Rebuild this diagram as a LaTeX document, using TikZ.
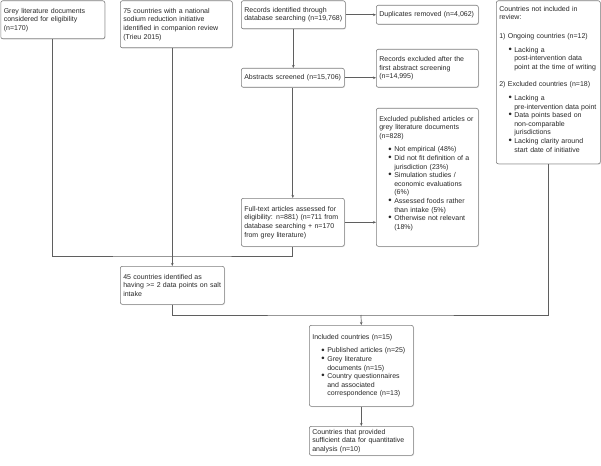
\documentclass[tikz,border=0pt]{standalone}
\usepackage{fontspec}
\setmainfont{Liberation Sans}
\usetikzlibrary{arrows.meta,shadows}
\definecolor{linegray}{RGB}{95,95,95}
\definecolor{boxgray}{RGB}{125,125,125}
\definecolor{textgray}{RGB}{40,40,40}

% bullet item with hanging indent, plain paragraph, gap
\newcommand{\bitem}[1]{\par\leftskip=15pt\noindent\llap{\raisebox{-0.2pt}{\scalebox{1.35}{\textbullet}}\hspace{2.5pt}}#1\par}
\newcommand{\bhead}[1]{\par\leftskip=0pt\noindent #1\par}
\newcommand{\gap}[1]{\par\vspace{#1}}

\begin{document}
\begin{tikzpicture}[
  x=1pt, y=-1pt, >=Stealth,
  font=\fontsize{7}{8.6}\selectfont,
  card/.style={rectangle, draw=boxgray, line width=0.6pt, rounded corners=2pt, fill=white,
               anchor=north west, align=left, inner xsep=3pt, inner ysep=2pt, text=textgray,
               drop shadow={shadow xshift=0.7pt, shadow yshift=-0.7pt, fill=black!25}},
  wire/.style={draw=linegray, line width=0.7pt},
  flow/.style={wire, -{Stealth[length=3pt,width=2.6pt]}}]

  \useasboundingbox (0,0) rectangle (601,465);

  % ---------- sources ----------
  \node[card, text width=98pt, minimum height=38pt] (grey) at (0.5,0.5)
    {Grey literature documents\newline considered for eligibility\newline (n=170)};
  \node[card, text width=106pt, minimum height=47pt] (nat) at (120,0.5)
    {75 countries with a national\newline sodium reduction initiative\newline identified in companion review\newline (Trieu 2015)};
  \node[card, text width=98pt, minimum height=28pt] (rec) at (241,0.5)
    {Records identified through\newline database searching (n=19,768)};

  % ---------- screening ----------
  \node[card, text width=96pt, minimum height=19pt] (dup) at (376,5)
    {Duplicates removed (n=4,062)};
  \node[card, text width=97pt, minimum height=19pt] (abs) at (241,68)
    {Abstracts screened (n=15,706)};
  \node[card, text width=96pt, minimum height=38pt] (recex) at (376,49)
    {Records excluded after the\newline first abstract screening\newline (n=14,995)};
  \node[card, text width=96pt, minimum height=138pt] (excl) at (376,108)
    {Excluded published articles or\newline grey literature documents\newline (n=828)
     \gap{5pt}
     \bitem{Not empirical (48\%)}
     \bitem{Did not fit definition of a\newline jurisdiction (23\%)}
     \bitem{Simulation studies /\newline economic evaluations\newline (6\%)}
     \bitem{Assessed foods rather\newline than intake (5\%)}
     \bitem{Otherwise not relevant\newline (18\%)}
     \gap{8pt}};
  \node[card, text width=97pt, minimum height=48pt] (full) at (241,198)
    {Full-text articles assessed for\newline eligibility: n=881) (n=711 from\newline database searching + n=170\newline from grey literature)};

  % ---------- countries ----------
  \node[card, text width=98pt, minimum height=163pt] (notinc) at (496,0.5)
    {Countries not included in\newline review:
     \gap{10pt}
     \bhead{1) Ongoing countries (n=12)}
     \gap{5pt}
     \bitem{Lacking a\newline post-intervention data\newline point at the time of writing}
     \gap{9pt}
     \bhead{2) Excluded countries (n=18)}
     \gap{5pt}
     \bitem{Lacking a\newline pre-intervention data point}
     \bitem{Data points based on\newline non-comparable\newline jurisdictions}
     \bitem{Lacking clarity around\newline start date of initiative}
     \gap{6pt}};
  \node[card, text width=98pt, minimum height=38pt] (c45) at (120,266)
    {45 countries identified as\newline having >= 2 data points on salt\newline intake};
  \node[card, text width=98pt, minimum height=81pt] (inc) at (309,325)
    {Included countries (n=15)
     \gap{5pt}
     \bitem{Published articles (n=25)}
     \bitem{Grey literature\newline documents (n=15)}
     \bitem{Country questionnaires\newline and associated\newline correspondence (n=13)}};
  \node[card, text width=98pt, minimum height=29pt] (final) at (309,426)
    {Countries that provided\newline sufficient data for quantitative\newline analysis (n=10)};

  % ---------- connectors ----------
  \draw[flow] (rec.south) -- (rec.south |- abs.north);
  \draw[flow] (abs.south) -- (abs.south |- full.north);
  \draw[flow] (rec.east) -- (rec.east -| dup.west);
  \draw[flow] (abs.east) -- (abs.east -| recex.west);
  \draw[flow] (full.east) -- (full.east -| excl.west);

  % merge grey literature + full text, then into the 45
  \coordinate (joinA) at (172,256);
  \draw[wire] (grey.south) |- (joinA) -| (full.south);
  \draw[flow] (c45.north |- nat.south) -- (c45.north);

  % merge 45 with not-included, then down
  \coordinate (joinB) at (361,315);
  \draw[wire] (c45.south) |- (joinB) -| (notinc.south);
  \draw[flow] (joinB) -- (inc.north);
  \draw[flow] (inc) -- (final);

\end{tikzpicture}
\end{document}
